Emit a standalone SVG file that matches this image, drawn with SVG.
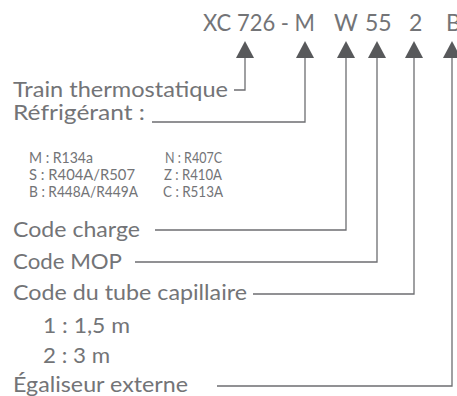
<svg xmlns="http://www.w3.org/2000/svg" width="457" height="396" viewBox="0 0 457 396">
<defs>
<style>
text{font-family:"Lato","Noto Sans",sans-serif;fill:#737477}
.t{font-size:23px}
.l{font-size:22px}
.s{font-size:15px}
.c{fill:none;stroke:#6d6e71;stroke-width:1.3}
.a{fill:#58595b}
</style>
</defs>
<rect width="457" height="396" fill="#fff"/>
<g id="code">
<text class="t" x="203" y="31" textLength="112" lengthAdjust="spacingAndGlyphs">XC 726 - M</text>
<text class="t" x="334" y="31">W</text>
<text class="t" x="365" y="31">55</text>
<text class="t" x="409" y="31">2</text>
<text class="t" x="446" y="31">B</text>
</g>
<g id="connectors">
<path class="c" d="M245,57V90H234"/>
<path class="c" d="M305,57V122H152"/>
<path class="c" d="M346,57V230H155"/>
<path class="c" d="M377,57V262H135"/>
<path class="c" d="M414,57V294H253"/>
<path class="c" d="M452,57V386H217"/>
<path class="a" d="M245,41L236,58H254Z"/>
<path class="a" d="M305,41L296,58H314Z"/>
<path class="a" d="M346,41L337,58H355Z"/>
<path class="a" d="M377,41L368,58H386Z"/>
<path class="a" d="M414,41L405,58H423Z"/>
<path class="a" d="M452,41L443,58H461Z"/>
</g>
<g id="train"><text class="l" x="13" y="97" textLength="215" lengthAdjust="spacingAndGlyphs">Train thermostatique</text></g>
<g id="refrigerant">
<text class="l" x="13" y="120" textLength="132" lengthAdjust="spacingAndGlyphs">Réfrigérant :</text>
<text class="s" x="29" y="163" textLength="64" lengthAdjust="spacingAndGlyphs">M : R134a</text>
<text class="s" x="165" y="163" textLength="57" lengthAdjust="spacingAndGlyphs">N : R407C</text>
<text class="s" x="29" y="180" textLength="106" lengthAdjust="spacingAndGlyphs">S : R404A/R507</text>
<text class="s" x="164" y="180" textLength="58" lengthAdjust="spacingAndGlyphs">Z : R410A</text>
<text class="s" x="29" y="197" textLength="109" lengthAdjust="spacingAndGlyphs">B : R448A/R449A</text>
<text class="s" x="163" y="197" textLength="60" lengthAdjust="spacingAndGlyphs">C : R513A</text>
</g>
<g id="charge"><text class="l" x="13" y="237" textLength="127" lengthAdjust="spacingAndGlyphs">Code charge</text></g>
<g id="mop"><text class="l" x="13" y="269" textLength="109" lengthAdjust="spacingAndGlyphs">Code MOP</text></g>
<g id="capillaire">
<text class="l" x="13" y="300" textLength="234" lengthAdjust="spacingAndGlyphs">Code du tube capillaire</text>
<text class="l" x="43" y="333" textLength="87" lengthAdjust="spacingAndGlyphs">1 : 1,5 m</text>
<text class="l" x="43" y="363" textLength="67" lengthAdjust="spacingAndGlyphs">2 : 3 m</text>
</g>
<g id="egaliseur"><text class="l" x="13" y="392" textLength="175" lengthAdjust="spacingAndGlyphs">Égaliseur externe</text></g>
</svg>
